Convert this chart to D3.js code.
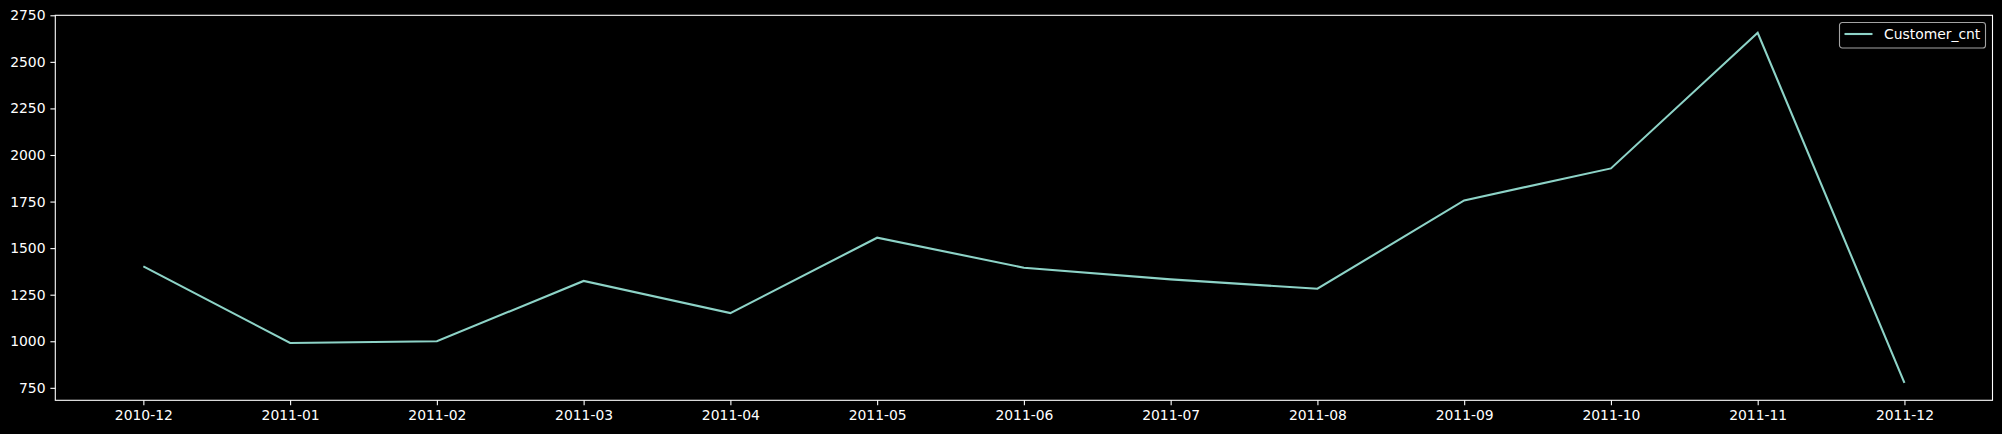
<!doctype html>
<html>
<head>
<meta charset="utf8">
<style>
    body { margin: 0; background: #000; }
    svg { display: block; }
    text { font-family: "DejaVu Sans", sans-serif; }
    .axis path, .axis line { stroke: #fff; stroke-width: 1.1px; }
    .axis text { fill: #fff; font-size: 13.9px; }
    .line { fill: none; stroke: #8dd3c7; stroke-width: 2.1px; stroke-linejoin: miter; }
</style>
<script src="https://d3js.org/d3.v7.min.js"></script>
</head>
<body>
<svg width="2002" height="434"></svg>
<script>
    var months = ["2010-12", "2011-01", "2011-02", "2011-03", "2011-04", "2011-05", "2011-06",
                  "2011-07", "2011-08", "2011-09", "2011-10", "2011-11", "2011-12"];
    var customerCnt = [1402, 991, 1000, 1324, 1151, 1556, 1395, 1332, 1282, 1756, 1928, 2656, 777];
    var yTicks = [750, 1000, 1250, 1500, 1750, 2000, 2250, 2500, 2750];
    var seriesName = "Customer_cnt";

    var svg = d3.select("svg"),
        margin = {top: 15.3, right: 9.5, bottom: 33.7, left: 55.3},
        width = +svg.attr("width") - margin.left - margin.right,
        height = +svg.attr("height") - margin.top - margin.bottom;

    svg.append("rect")
       .attr("width", 2002).attr("height", 434).attr("fill", "#000");

    var g = svg.append("g")
               .attr("transform", "translate(" + margin.left + "," + margin.top + ")");

    // matplotlib style 5% margins
    var lo = d3.min(customerCnt), hi = d3.max(customerCnt), pad = (hi - lo) * 0.05;

    var x = d3.scalePoint().domain(months).range([0, width]).padding(0.6);
    var y = d3.scaleLinear().domain([lo - pad, hi + pad]).range([height, 0]);

    g.append("g")
     .attr("class", "axis")
     .attr("transform", "translate(0," + height + ")")
     .call(d3.axisBottom(x).tickSize(4.9).tickPadding(4.9).tickSizeOuter(0))
     .select(".domain").remove();

    g.append("g")
     .attr("class", "axis")
     .call(d3.axisLeft(y).tickValues(yTicks).tickFormat(d3.format("d"))
             .tickSize(4.9).tickPadding(4.9).tickSizeOuter(0))
     .select(".domain").remove();

    g.selectAll(".axis text").attr("font-size", "13.9px");

    // spines
    g.append("rect")
     .attr("width", width).attr("height", height)
     .attr("fill", "none").attr("stroke", "#fff").attr("stroke-width", 1.1);

    var line = d3.line()
        .x(function(d, i) { return x(months[i]); })
        .y(function(d) { return y(d); });

    g.append("path")
     .datum(customerCnt)
     .attr("class", "line")
     .attr("d", line);

    // legend
    var lg = svg.append("g").attr("transform", "translate(1839.5,22.5)");
    lg.append("rect")
      .attr("width", 146).attr("height", 25.5).attr("rx", 2.8)
      .attr("fill", "#000").attr("fill-opacity", 0.8)
      .attr("stroke", "#cccccc").attr("stroke-opacity", 0.8).attr("stroke-width", 1.1);
    lg.append("line")
      .attr("x1", 5).attr("x2", 33).attr("y1", 11.5).attr("y2", 11.5)
      .attr("stroke", "#8dd3c7").attr("stroke-width", 2.1);
    lg.append("text")
      .attr("x", 44.5).attr("y", 16.5)
      .attr("fill", "#fff").attr("font-size", "13.9px")
      .text(seriesName);
</script>
</body>
</html>
